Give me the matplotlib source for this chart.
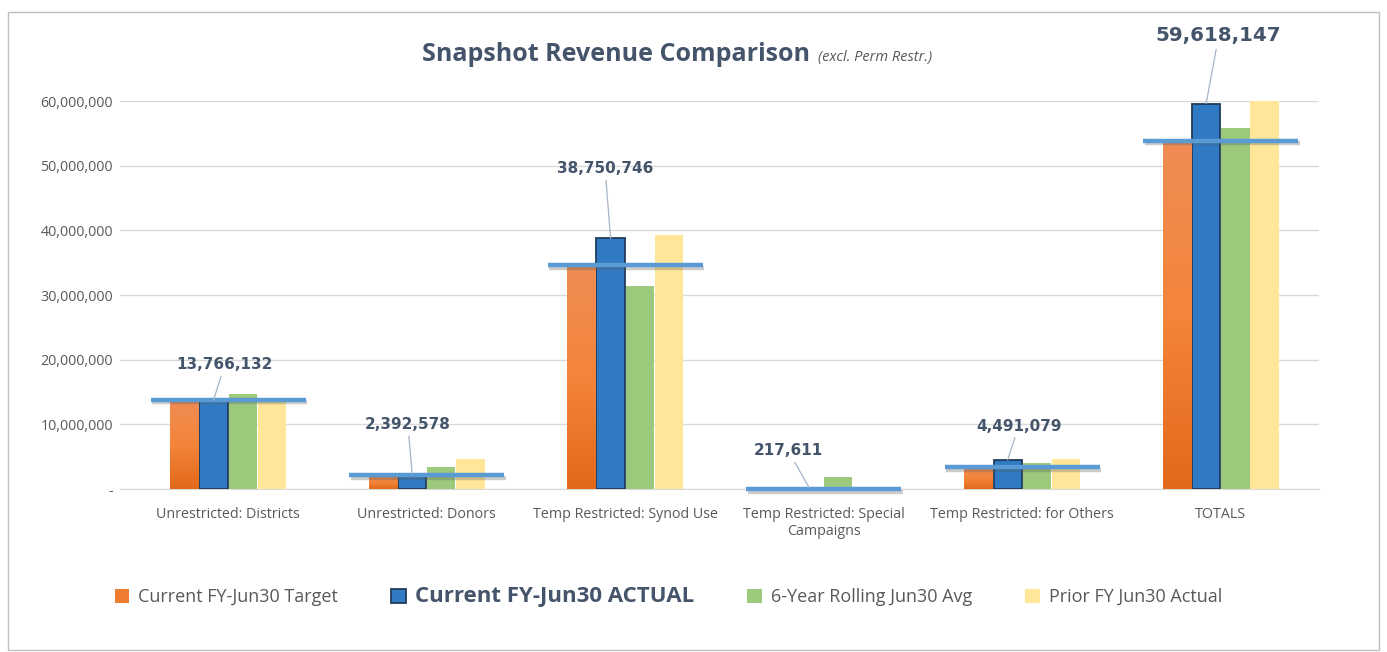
import matplotlib.pyplot as plt
import matplotlib.patheffects as pe
from matplotlib.patches import Rectangle, Patch
from matplotlib.colors import LinearSegmentedColormap
from matplotlib.ticker import FuncFormatter
import numpy as np

# data
categories = ["Unrestricted: Districts", "Unrestricted: Donors", "Temp Restricted: Synod Use",
              "Temp Restricted: Special\nCampaigns", "Temp Restricted: for Others", "TOTALS"]
target = [13800000, 2100000, 34600000, 0, 3400000, 53900000]
actual = [13766132, 2392578, 38750746, 217611, 4491079, 59618147]
rolling6 = [14700000, 3400000, 31400000, 1850000, 4000000, 55800000]
prior = [13600000, 4600000, 39300000, 0, 4600000, 60000000]
series_names = ["Current FY-Jun30 Target", "Current FY-Jun30 ACTUAL",
                "6-Year Rolling Jun30 Avg", "Prior FY Jun30 Actual"]

# label offsets (points): text position relative to top of actual bar
label_offsets = [(8, 20), (-3, 30), (-4, 45), (-15, 21), (8, 19), (9, 42)]

colors = ["#EE7B2F", "#2F7AC2", "#9DC97C", "#FFE699"]
txt = "#44546A"
grey = "#595959"

plt.rcParams['font.family'] = ['Open Sans', 'DejaVu Sans']

fig = plt.figure(figsize=(13.87, 6.52), dpi=100)
fig.patches.append(Rectangle((0.006, 0.003), 0.988, 0.978, transform=fig.transFigure,
                             fill=False, edgecolor="#BFBFBF", linewidth=1))
ax = fig.add_axes([0.0865, 0.25, 0.8645, 0.595])

x = np.arange(len(categories))
w = 0.147
all_series = [target, actual, rolling6, prior]
bars = []
for i, (vals, c) in enumerate(zip(all_series, colors)):
    if i == 1:
        b = ax.bar(x + (i - 1.5) * w, vals, w * 0.97, color=c, edgecolor="#1F3B5C",
                   linewidth=1.3, zorder=3)
    else:
        b = ax.bar(x + (i - 1.5) * w, vals, w * 0.97, color=c, zorder=3)
    bars.append(b)

# orange gradient (lighter at top)
orange_cmap = LinearSegmentedColormap.from_list("org", ["#E2691A", "#F4853A", "#EF8C55"])
grad = np.linspace(0, 1, 256).reshape(-1, 1)
for p in bars[0]:
    if p.get_height() <= 0:
        continue
    x0, y0 = p.get_x(), p.get_y()
    im = ax.imshow(grad, cmap=orange_cmap, aspect="auto", origin="lower",
                   extent=[x0, x0 + p.get_width(), y0, y0 + p.get_height()], zorder=3.1)
    im.set_clip_path(p)
ax.set_ylim(0, 60000000)
ax.set_xlim(-0.545, 5.495)

# target marker line
for xi, t in zip(x, target):
    ax.plot([xi - 0.39, xi + 0.39], [t, t], color="#5B9BD5", linewidth=3.2, zorder=5,
            solid_capstyle="butt", clip_on=False,
            path_effects=[pe.SimpleLineShadow(offset=(1, -1.8), shadow_color="#595959", alpha=0.3),
                          pe.Normal()])

# data labels for actual
for i, (xi, v) in enumerate(zip(x, actual)):
    dx, dy = label_offsets[i]
    fs = 14.3 if i == len(actual) - 1 else 11
    ax.annotate(f"{v:,}", xy=(xi - 0.5 * w, v), xytext=(dx, dy), textcoords="offset points",
                ha="center", va="bottom", fontsize=fs, fontweight="bold", color=txt,
                family=["DejaVu Sans"], annotation_clip=False, zorder=6,
                arrowprops=dict(arrowstyle="-", color="#A6B4C8", linewidth=0.9,
                                shrinkA=1, shrinkB=0))

ax.set_yticks(np.arange(0, 60000001, 10000000))
ax.yaxis.set_major_formatter(FuncFormatter(lambda v, p: "-" if v == 0 else f"{int(v):,}"))
ax.set_xticks(x)
ax.set_xticklabels(categories)
ax.tick_params(axis="both", length=0, colors=grey, labelsize=10.3)
ax.tick_params(axis="x", pad=13)
ax.tick_params(axis="y", pad=5)
ax.grid(axis="y", color="#D9D9D9", linewidth=1, zorder=0)
for s in ["top", "right", "left"]:
    ax.spines[s].set_visible(False)
ax.spines["bottom"].set_color("#D9D9D9")

fig.text(0.444, 0.907, "Snapshot Revenue Comparison", ha="center", va="baseline",
         fontsize=18, fontweight="bold", color=txt)
fig.text(0.59, 0.907, "(excl. Perm Restr.)", ha="left", va="baseline",
         fontsize=10.5, style="italic", color=grey)

handles = [Patch(facecolor=colors[0]),
           Patch(facecolor=colors[1], edgecolor="#1F3B5C", linewidth=1.3),
           Patch(facecolor=colors[2]), Patch(facecolor=colors[3])]
leg = fig.legend(handles, series_names, loc="center", bbox_to_anchor=(0.482, 0.085), ncol=4,
                 frameon=False, fontsize=13, handlelength=0.8, handleheight=0.8,
                 handletextpad=0.5, columnspacing=2.95)
for i, t in enumerate(leg.get_texts()):
    t.set_color(grey)
    if i == 1:
        t.set_fontsize(16)
        t.set_fontweight("bold")
        t.set_color(txt)

fig.savefig("out.png", dpi=100)
